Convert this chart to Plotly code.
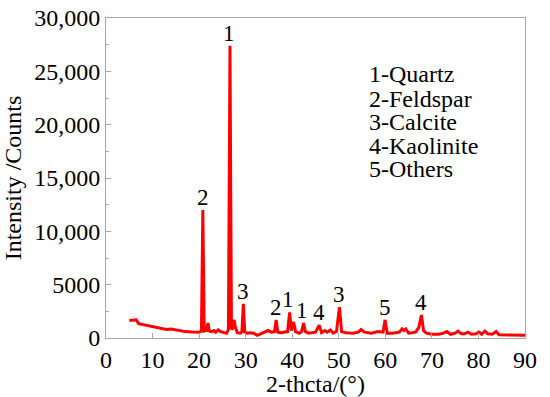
import plotly.graph_objects as go

# 2-theta positions (degrees) and intensities (counts)
two_theta = [5.0, 6.0, 6.5, 7.0, 7.5, 9.0, 10.0, 11.5, 13.0, 14.0, 14.7, 15.5, 17.0, 18.5, 20.0,
             20.5, 20.8, 21.1, 21.6, 21.9, 22.2, 22.7, 23.2, 23.6, 24.1, 24.6, 25.3, 25.9,
             26.3, 26.63, 26.95, 27.2, 27.5, 27.8, 28.2, 28.9, 29.2, 29.5, 29.8, 30.3, 31.0,
             31.7, 32.5, 33.2, 34.0, 34.8, 35.5, 36.2, 36.55, 36.9, 37.5, 38.2, 39.0, 39.45,
             39.8, 40.3, 40.7, 41.5, 42.0, 42.45, 42.8, 43.5, 44.3, 45.0, 45.8, 46.3, 47.0,
             47.5, 48.2, 48.8, 49.5, 50.15, 50.6, 51.5, 53.0, 54.2, 54.8, 55.5, 57.0, 58.4,
             59.5, 59.95, 60.4, 61.5, 63.0, 63.6, 64.0, 64.4, 65.0, 66.5, 67.2, 67.75, 68.2,
             68.8, 70.0, 71.5, 72.5, 73.2, 74.0, 75.0, 75.6, 76.3, 77.0, 77.7, 78.5, 79.5,
             80.1, 80.7, 81.4, 82.0, 83.0, 83.8, 84.4, 86.0, 88.0, 90.0]
intensity = [1650, 1700, 1700, 1350, 1300, 1150, 1050, 950, 800, 850, 800, 700, 600, 560, 550,
             650, 12000, 650, 700, 1400, 650, 600, 700, 550, 750, 600, 500, 450,
             800, 27400, 800, 900, 1700, 1000, 500, 450, 600, 3200, 550, 450, 500,
             450, 250, 400, 500, 700, 550, 600, 1700, 550, 500, 550, 600, 2400,
             700, 1500, 600, 450, 600, 1400, 600, 450, 500, 550, 1200, 500, 700,
             550, 750, 450, 600, 2900, 600, 500, 450, 550, 800, 550, 450, 600,
             550, 1700, 450, 450, 550, 850, 700, 850, 450, 550, 1000, 2150, 700,
             450, 350, 350, 450, 600, 350, 450, 650, 400, 400, 550, 350, 400,
             550, 350, 650, 400, 350, 600, 300, 300, 300, 250]

# Peak labels (phase number) and their 2-theta positions
peak_x = [20.8, 26.63, 29.5, 36.55, 39.45, 42.45, 45.8, 50.15, 59.95, 67.75]
peak_text = ["2", "1", "3", "2", "1", "1", "4", "3", "5", "4"]
peak_dx = [0, -1, 0, 0, -2, -2, 0, 0, 0, 0]

legend_lines = ["1-Quartz", "2-Feldspar", "3-Calcite", "4-Kaolinite", "5-Others"]

x_ticks = [0, 10, 20, 30, 40, 50, 60, 70, 80, 90]
y_ticks = [0, 5000, 10000, 15000, 20000, 25000, 30000]
y_ticktext = ["0", "5000", "10,000", "15,000", "20,000", "25,000", "30,000"]

FONT = "Liberation Serif"
GRAY = "#a8a8a8"

fig = go.Figure()
fig.add_trace(go.Scatter(x=two_theta, y=intensity, mode="lines",
                         line=dict(color="#ff0000", width=3), showlegend=False,
                         hoverinfo="skip"))

annotations = []
for px, txt, dx in zip(peak_x, peak_text, peak_dx):
    i = min(range(len(two_theta)), key=lambda k: abs(two_theta[k] - px))
    annotations.append(dict(x=px, y=intensity[i], text=txt, showarrow=False,
                            xanchor="center", yanchor="bottom", xshift=dx, yshift=-2,
                            font=dict(family=FONT, size=23, color="black")))

plot_left, plot_right = 106, 525
plot_top, plot_bottom = 18, 338
legend_px = 367
legend_py = [74, 98.5, 122, 145.5, 168.5]
for txt, py in zip(legend_lines, legend_py):
    annotations.append(dict(x=(legend_px - plot_left) / (plot_right - plot_left),
                            y=(plot_bottom - py) / (plot_bottom - plot_top),
                            xref="paper", yref="paper", text=txt, showarrow=False,
                            xanchor="left", yanchor="middle",
                            font=dict(family=FONT, size=24, color="black")))

fig.update_layout(
    width=550, height=397,
    margin=dict(l=plot_left, r=550 - plot_right, t=plot_top, b=397 - plot_bottom),
    paper_bgcolor="white", plot_bgcolor="white",
    font=dict(family=FONT, size=24, color="black"),
    annotations=annotations,
    xaxis=dict(range=[0, 90], tickvals=x_ticks, ticks="inside", ticklen=5, tickcolor=GRAY,
               showline=True, linecolor=GRAY, linewidth=1, mirror=True, showgrid=False,
               zeroline=False, automargin=False, tickfont=dict(family=FONT, size=24),
               title=dict(text="2-thcta/(°)", font=dict(family=FONT, size=24), standoff=0)),
    yaxis=dict(range=[0, 30000], tickvals=y_ticks, ticktext=y_ticktext, ticks="inside",
               ticklen=5, tickcolor=GRAY, showline=True, linecolor=GRAY, linewidth=1,
               mirror=True, showgrid=False, zeroline=False, automargin=False,
               tickfont=dict(family=FONT, size=24),
               minor=dict(dtick=2500, ticks="inside", ticklen=3, tickcolor=GRAY),
               title=dict(text="Intensity /Counts", font=dict(family=FONT, size=24), standoff=6)),
)

fig.write_html("out.html", config={"displayModeBar": False},
               post_script="document.body.style.margin='0';")
